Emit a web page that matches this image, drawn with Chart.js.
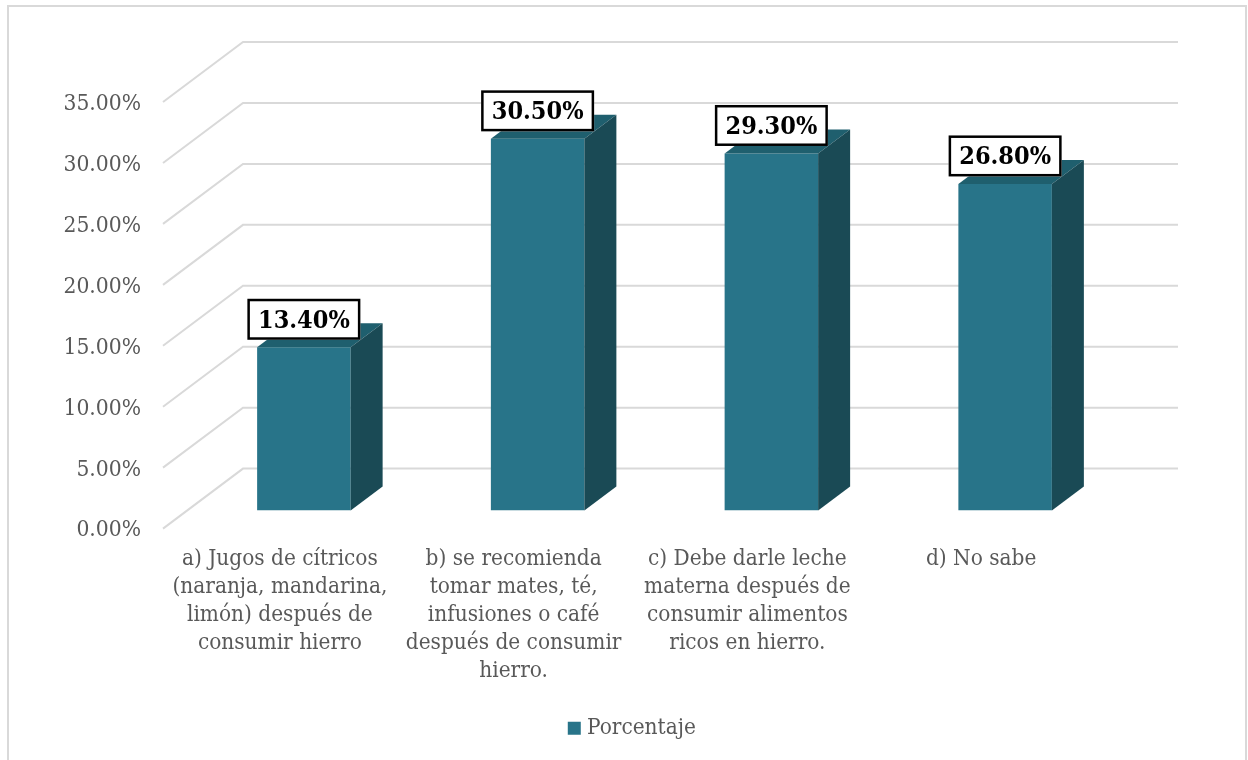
<!DOCTYPE html>
<html><head><meta charset="utf-8">
<style>html,body{margin:0;padding:0;background:#fff;overflow:hidden}#w{position:absolute;left:0;top:0;width:1248px;height:760px}</style>
<script src="https://cdn.jsdelivr.net/npm/chart.js@4"></script></head>
<body><div id="w"><canvas id="c" width="1248" height="760"></canvas></div>
<script>
const categories = [
  ["a) Jugos de cítricos","(naranja, mandarina,","limón) después de","consumir hierro"],
  ["b) se recomienda","tomar mates, té,","infusiones o café","después de consumir","hierro."],
  ["c) Debe darle leche","materna después de","consumir alimentos","ricos en hierro."],
  ["d) No sabe"]
];
const seriesName = "Porcentaje";
const porcentaje = [13.4, 30.5, 29.3, 26.8];
const FONT = '"DejaVu Serif Condensed","DejaVu Serif",serif';
const wallDX = 80, wallDY = -60, barDX = 24, barDY = -18, depthDX = 32, depthDY = -24;
const GRID = '#D9D9D9', FRONT = '#287489', SIDE = '#1A4A55', TOP = '#1F5F6E';
const fmt = v => Number(v).toFixed(2) + '%';

const wall = {
  id: 'wall',
  beforeDatasetsDraw(chart) {
    const { ctx, chartArea: a, scales: { y } } = chart;
    ctx.save();
    ctx.strokeStyle = GRID;
    ctx.lineWidth = 2;
    y.ticks.forEach(t => {
      const py = y.getPixelForValue(t.value);
      ctx.beginPath(); ctx.moveTo(a.left, py); ctx.lineTo(a.left + wallDX, py + wallDY); ctx.lineTo(a.right + wallDX, py + wallDY); ctx.stroke();
    });
    ctx.restore();
  },
  beforeDatasetDraw(chart) { chart.ctx.save(); chart.ctx.translate(barDX, barDY); },
  afterDatasetDraw(chart, args) {
    const { ctx } = chart;
    ctx.restore();
    const els = chart.getDatasetMeta(args.index).data;
    els.forEach(el => {
      const p = el.getProps(['x', 'y', 'base', 'width'], true);
      const l = p.x - p.width / 2 + barDX, r = p.x + p.width / 2 + barDX, t = p.y + barDY, b = p.base + barDY;
      ctx.fillStyle = TOP;
      ctx.beginPath(); ctx.moveTo(l, t); ctx.lineTo(l + depthDX, t + depthDY); ctx.lineTo(r + depthDX, t + depthDY); ctx.lineTo(r, t); ctx.closePath(); ctx.fill();
      ctx.fillStyle = SIDE;
      ctx.beginPath(); ctx.moveTo(r, t); ctx.lineTo(r + depthDX, t + depthDY); ctx.lineTo(r + depthDX, b + depthDY); ctx.lineTo(r, b); ctx.closePath(); ctx.fill();
    });
  },
  afterLayout(chart) {
    const lg = chart.legend;
    const h = lg.bottom - lg.top;
    lg.left = 0; lg.right = 1268.6; lg.width = 1268.6;
    lg.top = 707; lg.bottom = 707 + h;
  },
  afterDraw(chart) {
    const { ctx } = chart;
    ctx.save();
    ctx.strokeStyle = GRID; ctx.lineWidth = 2;
    ctx.strokeRect(8, 6, 1238, 770);
    chart.getDatasetMeta(0).data.forEach((el, i) => {
      const p = el.getProps(['x', 'y'], true);
      const cx = p.x + barDX, bottom = p.y + barDY - 7.5, w = 113, h = 41;
      ctx.fillStyle = '#fff'; ctx.fillRect(cx - w / 2, bottom - h, w, h);
      ctx.strokeStyle = '#000'; ctx.lineWidth = 2.5;
      ctx.strokeRect(cx - w / 2 + 1.25, bottom - h + 1.25, w - 2.5, h - 2.5);
      ctx.fillStyle = '#000'; ctx.font = 'bold 25px ' + FONT;
      ctx.textAlign = 'center'; ctx.textBaseline = 'middle';
      ctx.fillText(fmt(porcentaje[i]), cx, bottom - h / 2 + 2);
    });
    ctx.restore();
  }
};

new Chart(document.getElementById('c'), {
  type: 'bar',
  data: { labels: categories, datasets: [{ label: seriesName, data: porcentaje, backgroundColor: FRONT, borderWidth: 0, categoryPercentage: 1, barPercentage: 0.4 }] },
  plugins: [wall],
  options: {
    responsive: false, animation: false,
    layout: { autoPadding: false, padding: { left: 14, right: 150, top: 102, bottom: 0 } },
    plugins: {
      tooltip: { enabled: false },
      legend: { position: 'bottom', labels: { usePointStyle: true, pointStyle: 'rect', boxWidth: 3, boxHeight: 13, padding: 10, color: '#595959', font: { family: FONT, size: 22.4 } } }
    },
    scales: {
      x: {
        grid: { display: false }, border: { display: false },
        ticks: { color: '#595959', padding: 9, maxRotation: 0, minRotation: 0, autoSkip: false, font: { family: FONT, size: 22.4, lineHeight: '28px' } },
        afterFit(s) { s.height = 189; }
      },
      y: {
        min: 0, max: 35,
        grid: { display: false }, border: { display: false },
        ticks: { stepSize: 5, color: '#595959', padding: 14, labelOffset: 2, callback: fmt, font: { family: FONT, size: 22.6 } },
        afterFit(s) { s.width = 149; }
      }
    }
  }
});
</script></body></html>
